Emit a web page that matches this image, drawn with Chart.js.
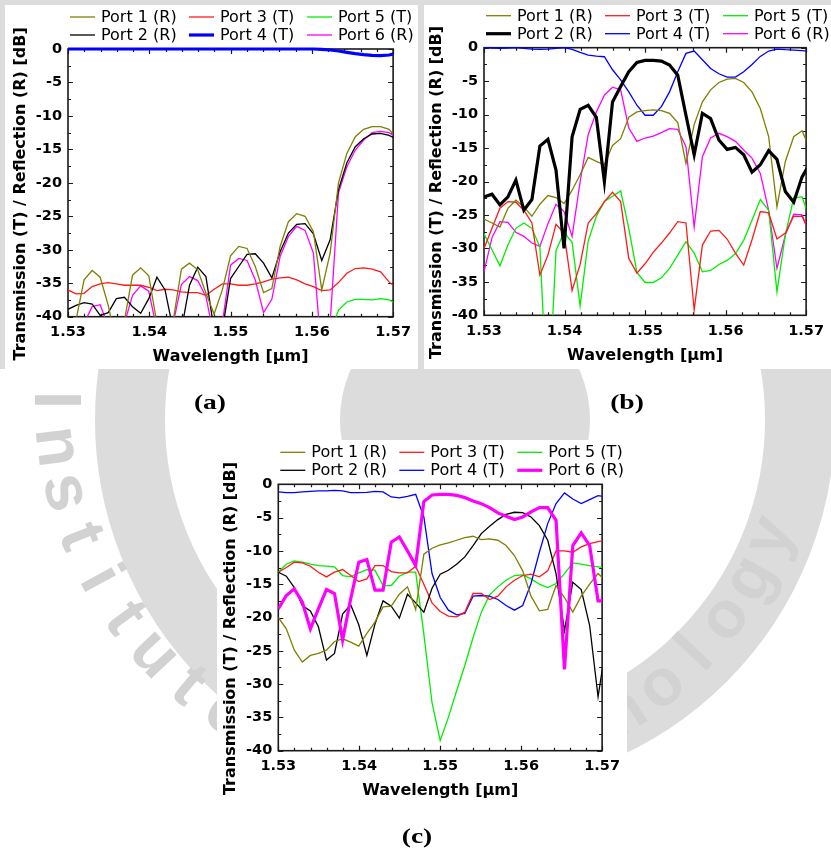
<!DOCTYPE html>
<html><head><meta charset="utf-8">
<script src="https://cdn.jsdelivr.net/npm/chart.js@4.4.1/dist/chart.umd.min.js"></script>
<style>
html,body{margin:0;padding:0;background:#fff;}
#page{position:relative;width:831px;height:850px;overflow:hidden;background:#fff;}
#wm{position:absolute;left:0;top:0;}
.panel{position:absolute;background:#fff;}
.panel canvas{display:block;}
.lab{position:absolute;font-family:"Liberation Serif","Times New Roman",serif;font-weight:bold;font-size:22px;color:#000;transform:translateX(-50%) scaleX(1.25);line-height:22px;}
</style></head><body>
<div id="page">
  <canvas id="wm" width="831" height="850"></canvas>
  <div class="panel" style="left:5px;top:5px;width:413px;height:364px"><canvas id="ca"></canvas></div>
  <div class="panel" style="left:424px;top:5px;width:407px;height:364px"><canvas id="cb"></canvas></div>
  <div class="panel" style="left:217px;top:440px;width:410px;height:364px"><canvas id="cc"></canvas></div>
  <div class="lab" style="left:210px;top:391px">(a)</div>
  <div class="lab" style="left:627px;top:391px">(b)</div>
  <div class="lab" style="left:417px;top:825px">(c)</div>
</div>
<script>
// ---- wavelength samples [µm] ----
const WAVELENGTH = [1.53000,1.53099,1.53198,1.53297,1.53396,1.53495,1.53595,1.53694,1.53794,1.53894,
  1.53994,1.54094,1.54194,1.54294,1.54395,1.54495,1.54596,1.54697,1.54798,1.54899,
  1.55000,1.55101,1.55203,1.55304,1.55406,1.55508,1.55610,1.55712,1.55814,1.55917,
  1.56019,1.56122,1.56225,1.56328,1.56431,1.56535,1.56638,1.56742,1.56846,1.56950,1.57053];

const SERIES_LABELS = ['Port 1 (R)','Port 2 (R)','Port 3 (T)','Port 4 (T)','Port 5 (T)','Port 6 (R)'];
const X_TICKS = [1.53,1.54,1.55,1.56,1.57];
const Y_TICKS = [0,-5,-10,-15,-20,-25,-30,-35,-40];

// ---- panel (a) [dB] ----
const A_PORT1 = [-43,-40.5,-34.5,-33.1,-34.1,-38.3,-44,-40.6,-33.8,-32.7,-33.9,-41,-45,-40.6,-32.9,-32.0,-33.0,-36.5,-39.6,-36.0,-30.9,-29.5,-29.8,-32.5,-36.4,-35.8,-29.5,-25.8,-24.6,-25.0,-27.3,-36.0,-30.5,-20.0,-15.6,-13.1,-12.0,-11.6,-11.6,-12.0,-13.4];
const A_PORT2 = [-38.9,-38.3,-37.9,-38.1,-39.8,-39.4,-37.3,-37.1,-38.5,-39.5,-37.3,-34.1,-36.0,-42,-42,-35.3,-32.6,-34.0,-42,-42,-34.3,-32.5,-30.7,-30.6,-32.0,-34.2,-30.3,-27.5,-26.2,-26.1,-27.6,-31.6,-28.5,-21.0,-17.0,-14.6,-13.4,-12.7,-12.6,-12.9,-13.5];
const A_PORT3 = [-36.0,-36.6,-36.5,-35.5,-35.1,-34.9,-35.1,-35.3,-35.3,-35.3,-35.6,-36.1,-35.9,-36.0,-36.3,-36.4,-36.4,-36.8,-35.9,-35.1,-35.1,-35.3,-35.3,-35.1,-34.8,-34.4,-34.2,-34.1,-34.5,-35.1,-35.5,-36.1,-36.0,-34.9,-33.5,-32.8,-32.7,-32.9,-33.3,-34.8,-35.8];
const A_PORT4 = [0,0,0,0,0,0,0,0,0,0,0,0,0,0,0,0,0,0,0,0,0,0,0,0,0,0,0,0,0,0,0,-0.05,-0.15,-0.3,-0.5,-0.7,-0.85,-0.95,-1.0,-0.9,-0.6];
const A_PORT5 = [null,null,null,null,null,null,null,null,null,null,null,null,null,null,null,null,null,null,null,null,null,null,null,null,null,null,null,null,null,null,null,null,-42.5,-39.0,-37.8,-37.4,-37.4,-37.5,-37.3,-37.5,-38.1];
const A_PORT6 = [-45,-45,-41,-38.5,-38.2,-41.5,-45,-41,-36.8,-35.4,-36.2,-42,-45,-41,-35.2,-34.0,-34.6,-37.0,-43,-41,-32.3,-31.3,-31.6,-34.5,-39.4,-37.4,-31.0,-28.0,-26.5,-27.1,-30.5,-46,-41,-21.5,-17.6,-15.1,-13.6,-12.5,-12.3,-12.5,-13.3];

// ---- panel (b) [dB] ----
const B_PORT1 = [-25.6,-26.2,-26.8,-24.0,-22.8,-23.8,-25.2,-23.4,-22.1,-22.4,-23.3,-21.3,-19.0,-16.4,-17.0,-17.5,-14.6,-13.6,-10.4,-9.6,-9.4,-9.3,-9.4,-9.8,-11.2,-17.3,-11.5,-8.1,-6.3,-5.2,-4.7,-4.6,-5.2,-6.6,-9.1,-13.3,-23.8,-17.0,-13.3,-12.4,-15.3];
const B_PORT2 = [-22.3,-21.9,-23.5,-22.3,-19.8,-24.3,-22.7,-14.7,-13.7,-18.3,-30.0,-13.3,-9.2,-8.6,-10.4,-20.0,-8.1,-5.8,-3.6,-2.2,-1.9,-1.9,-2.0,-2.6,-4.1,-10.1,-16.0,-9.8,-10.6,-13.8,-15.2,-14.9,-16.0,-18.6,-17.5,-15.4,-16.7,-21.5,-23.1,-19.3,-17.2];
const B_PORT3 = [-30.0,-27.0,-24.0,-23.0,-23.1,-24.3,-26.2,-34.0,-31.0,-26.4,-27.7,-36.3,-32.4,-26.2,-24.8,-23.0,-21.6,-23.0,-31.5,-33.7,-32.3,-30.6,-29.2,-27.7,-26.0,-26.2,-39.2,-29.5,-27.4,-27.3,-28.6,-30.7,-32.5,-28.7,-24.5,-24.7,-28.6,-27.7,-25.2,-25.2,-27.9];
const B_PORT4 = [0,-0.05,-0.1,-0.05,0,-0.1,-0.2,-0.25,-0.2,-0.1,0,-0.25,-0.7,-1.1,-1.25,-1.35,-3.3,-4.8,-6.6,-8.6,-10.1,-10.1,-8.8,-6.6,-3.6,-0.85,-0.5,-1.8,-3.1,-3.9,-4.4,-4.4,-3.6,-2.5,-1.3,-0.5,-0.2,-0.3,-0.35,-0.45,-0.55];
const B_PORT5 = [-27.8,-30.2,-32.6,-29.5,-27.0,-26.2,-27.0,-29.8,-55,-30.3,-27.6,-29.1,-38.6,-28.9,-25.2,-23.0,-22.2,-21.4,-27.0,-33.6,-35.1,-35.1,-34.4,-33.0,-31.0,-29.0,-30.7,-33.5,-33.3,-32.4,-31.8,-30.8,-28.8,-25.8,-22.7,-24.3,-36.5,-28.0,-22.4,-22.3,-25.8];
const B_PORT6 = [-33.5,-28.4,-26.0,-26.1,-27.6,-28.2,-29.2,-29.7,-26.3,-23.4,-24.5,-28.2,-20.0,-13.0,-9.6,-7.1,-5.9,-6.3,-12.0,-14.0,-13.5,-13.2,-12.7,-12.1,-12.2,-14.8,-26.8,-16.3,-13.5,-12.8,-13.3,-14.0,-15.3,-16.5,-18.8,-24.3,-33.0,-28.0,-24.9,-25.0,-28.1];

// ---- panel (c) [dB] ----
const C_PORT1 = [-20.0,-21.7,-24.9,-26.7,-25.7,-25.4,-24.9,-23.6,-23.2,-23.7,-24.3,-22.4,-20.7,-18.4,-18.3,-16.5,-15.4,-18.8,-10.5,-9.6,-9.1,-8.8,-8.4,-8.0,-7.8,-8.3,-8.2,-8.4,-9.2,-10.7,-13.0,-16.8,-19.0,-18.8,-15.2,-17.0,-19.2,-16.8,-15.0,-13.4,-14.6];
const C_PORT2 = [-13.2,-13.8,-15.5,-18.2,-19.0,-21.4,-26.4,-25.4,-19.5,-18.1,-21.1,-25.7,-21.0,-17.5,-18.3,-20.1,-16.5,-17.8,-19.2,-15.6,-13.5,-12.9,-12.0,-10.9,-9.2,-7.4,-6.3,-5.3,-4.5,-4.2,-4.25,-4.9,-6.2,-8.4,-13.4,-22.0,-14.7,-15.8,-21.2,-31.9,-23.8];
const C_PORT3 = [-13.2,-12.5,-11.7,-11.8,-12.3,-13.2,-13.9,-13.2,-12.8,-13.7,-14.6,-14.2,-12.2,-12.2,-13.1,-13.3,-13.3,-12.3,-15.0,-17.8,-19.1,-19.8,-19.9,-19.2,-16.4,-16.4,-17.3,-16.8,-15.4,-14.4,-13.7,-13.5,-13.9,-13.0,-10.0,-10.0,-10.2,-9.4,-8.9,-8.6,-8.4];
const C_PORT4 = [-1.15,-1.25,-1.25,-1.15,-1.05,-1.0,-1.0,-0.9,-1.0,-1.25,-1.25,-1.2,-1.05,-1.15,-1.9,-2.05,-1.8,-1.5,-4.9,-13.4,-17.0,-18.9,-19.6,-19.4,-16.8,-16.7,-16.8,-17.3,-18.2,-18.9,-18.2,-14.9,-10.2,-5.9,-2.9,-1.3,-2.2,-2.9,-2.3,-1.7,-1.9];
const C_PORT5 = [-13.2,-12.0,-11.5,-11.7,-12.0,-12.2,-12.3,-12.4,-13.7,-13.9,-13.3,-12.8,-12.9,-15.2,-15.2,-13.8,-13.2,-13.2,-22.5,-32.8,-38.5,-35.0,-31.0,-27.2,-23.0,-19.2,-16.6,-15.4,-14.4,-13.7,-13.6,-14.2,-15.0,-15.5,-14.9,-13.4,-11.8,-12.0,-12.2,-12.4,-12.6];
const C_PORT6 = [-18.7,-16.7,-15.7,-17.7,-21.7,-18.7,-15.8,-16.4,-23.4,-17.2,-11.7,-11.3,-15.9,-15.9,-8.7,-7.9,-10.0,-12.2,-2.6,-1.6,-1.5,-1.5,-1.65,-2.0,-2.5,-2.9,-3.5,-4.3,-4.8,-5.3,-4.9,-4.15,-3.5,-3.5,-5.4,-27.8,-9.2,-7.3,-9.2,-17.5,-17.5];

// ---- background watermark text ----
const WATERMARK_TEXT = 'Institute of Technology';

// ---- styling ----
const COLORS = ['#7f7f00','#000000','#ff1a1a','#0000ff','#00ee00','#ff00ff'];
const FAMILY = '"DejaVu Sans", Verdana, sans-serif';

(function drawWatermark() {
  const g = document.getElementById('wm').getContext('2d');
  g.fillStyle = '#fff'; g.fillRect(0, 0, 831, 850);
  g.fillStyle = '#dcdcdc'; g.strokeStyle = '#dcdcdc';
  g.fillRect(0, 0, 831, 5); g.fillRect(0, 0, 5, 369); g.fillRect(418, 0, 6, 369);
  const cx = 465, cy = 420;
  g.lineWidth = 70; g.beginPath(); g.arc(cx, cy, 335, 0, Math.PI * 2); g.stroke();
  g.beginPath(); g.arc(cx, cy, 125, 0, Math.PI * 2); g.fill();
  // lettering along the lower arc of the seal
  g.fillStyle = '#d2d2d2';
  g.font = 'bold 66px "Liberation Sans", Arial, sans-serif';
  g.textAlign = 'center'; g.textBaseline = 'middle';
  const tx = 425, ty = 400, R = 372, step = 7.2 * Math.PI / 180;
  for (let i = 0; i < WATERMARK_TEXT.length; i++) {
    const theta = Math.PI - i * step;
    g.save();
    g.translate(tx + R * Math.cos(theta), ty + R * Math.sin(theta));
    g.rotate(theta - Math.PI / 2);
    g.fillText(WATERMARK_TEXT[i], 0, 0);
    g.restore();
  }
})();

const decor = {
  id: 'decor',
  beforeDatasetsDraw(chart) {
    const {ctx, chartArea: a, scales: {x, y}} = chart;
    ctx.save();
    ctx.strokeStyle = '#1a1a1a';
    ctx.lineWidth = 1.2;
    ctx.beginPath();
    for (let j = 0; j <= 20; j++) {
      const px = Math.round(x.getPixelForValue(X_TICKS[0] + j * 0.002)) + 0.5;
      const len = j % 5 === 0 ? 5 : 3;
      ctx.moveTo(px, a.bottom); ctx.lineTo(px, a.bottom - len);
      ctx.moveTo(px, a.top); ctx.lineTo(px, a.top + len);
    }
    for (let j = 0; j <= 16; j++) {
      const py = Math.round(y.getPixelForValue(Y_TICKS[0] - j * 2.5)) + 0.5;
      const len = j % 2 === 0 ? 5 : 3;
      ctx.moveTo(a.left, py); ctx.lineTo(a.left + len, py);
      ctx.moveTo(a.right, py); ctx.lineTo(a.right - len, py);
    }
    ctx.stroke();
    ctx.lineWidth = 1.6;
    ctx.strokeRect(a.left, a.top, a.right - a.left, a.bottom - a.top);
    ctx.restore();
  },
  afterDraw(chart) {
    const {ctx, chartArea: a} = chart;
    ctx.save();
    const cols = [2, 121, 239];
    const rows = [-32, -14];
    ctx.font = '16px ' + FAMILY;
    ctx.textBaseline = 'middle';
    ctx.textAlign = 'left';
    chart.data.datasets.forEach((ds, i) => {
      const c = Math.floor(i / 2), r = i % 2;
      const sx = a.left + cols[c], sy = a.top + rows[r];
      ctx.strokeStyle = ds.borderColor;
      ctx.lineWidth = ds.borderWidth;
      ctx.beginPath(); ctx.moveTo(sx, sy); ctx.lineTo(sx + 25, sy); ctx.stroke();
      ctx.fillStyle = '#000';
      ctx.fillText(ds.label, sx + 31, sy + 1);
    });
    ctx.translate(a.left - 47, (a.top + a.bottom) / 2 + 11);
    ctx.rotate(-Math.PI / 2);
    ctx.textAlign = 'center';
    ctx.font = 'bold 16px ' + FAMILY;
    ctx.fillText('Transmission (T) / Reflection (R) [dB]', 0, 0);
    ctx.restore();
  }
};

function makeChart(id, box, plot, series, thick) {
  const cv = document.getElementById(id);
  cv.width = box.w; cv.height = box.h;
  const L = plot.l - box.x, R = plot.r - box.x, T = plot.t - box.y, B = plot.b - box.y;
  const xH = box.h - B;
  const datasets = series.map((arr, i) => ({
    label: SERIES_LABELS[i],
    data: WAVELENGTH.map((w, k) => ({x: w, y: arr[k]})),
    borderColor: COLORS[i],
    backgroundColor: COLORS[i],
    borderWidth: i === thick ? 3.2 : 1.3,
    pointRadius: 0, pointHoverRadius: 0, tension: 0, fill: false,
    clip: {left: 0, right: 0, top: 4, bottom: 0},
    order: i === thick ? 0 : i + 1
  }));
  return new Chart(cv, {
    type: 'line',
    data: {datasets},
    options: {
      responsive: false, animation: false, devicePixelRatio: 1,
      events: [],
      layout: {autoPadding: false, padding: {left: 0, top: T, right: box.w - R, bottom: 0}},
      plugins: {legend: {display: false}, tooltip: {enabled: false}},
      scales: {
        x: {
          type: 'linear', min: X_TICKS[0], max: X_TICKS[X_TICKS.length - 1],
          afterFit(s) { s.height = xH; },
          grid: {display: false, drawTicks: false}, border: {display: false},
          afterBuildTicks(s) { s.ticks = X_TICKS.map(v => ({value: v})); },
          ticks: {padding: 7, color: '#000', maxRotation: 0, autoSkip: false,
            font: {family: FAMILY, size: 14.5, weight: 'bold'},
            callback: v => Number(v).toFixed(2)},
          title: {display: true, text: 'Wavelength [\u03bcm]', color: '#000',
            font: {family: FAMILY, size: 16, weight: 'bold'},
            padding: {top: 0, bottom: xH - 40.5 - 9.6}}
        },
        y: {
          type: 'linear', min: Y_TICKS[Y_TICKS.length - 1], max: Y_TICKS[0],
          afterFit(s) { s.width = L; },
          grid: {display: false, drawTicks: false}, border: {display: false},
          afterBuildTicks(s) { s.ticks = Y_TICKS.slice().reverse().map(v => ({value: v})); },
          ticks: {padding: 6, color: '#000', autoSkip: false,
            font: {family: FAMILY, size: 14.5, weight: 'bold'},
            callback: v => String(v)},
          title: {display: false}
        }
      }
    },
    plugins: [decor]
  });
}

makeChart('ca', {x: 5, y: 5, w: 413, h: 364}, {l: 68, r: 397.3, t: 49, b: 316.7},
  [A_PORT1, A_PORT2, A_PORT3, A_PORT4, A_PORT5, A_PORT6], 3);
makeChart('cb', {x: 424, y: 5, w: 407, h: 364}, {l: 484, r: 814.3, t: 47.7, b: 315.3},
  [B_PORT1, B_PORT2, B_PORT3, B_PORT4, B_PORT5, B_PORT6], 1);
makeChart('cc', {x: 217, y: 440, w: 410, h: 364}, {l: 278.3, r: 605.7, t: 484.3, b: 750.7},
  [C_PORT1, C_PORT2, C_PORT3, C_PORT4, C_PORT5, C_PORT6], 5);
</script>
</body></html>
